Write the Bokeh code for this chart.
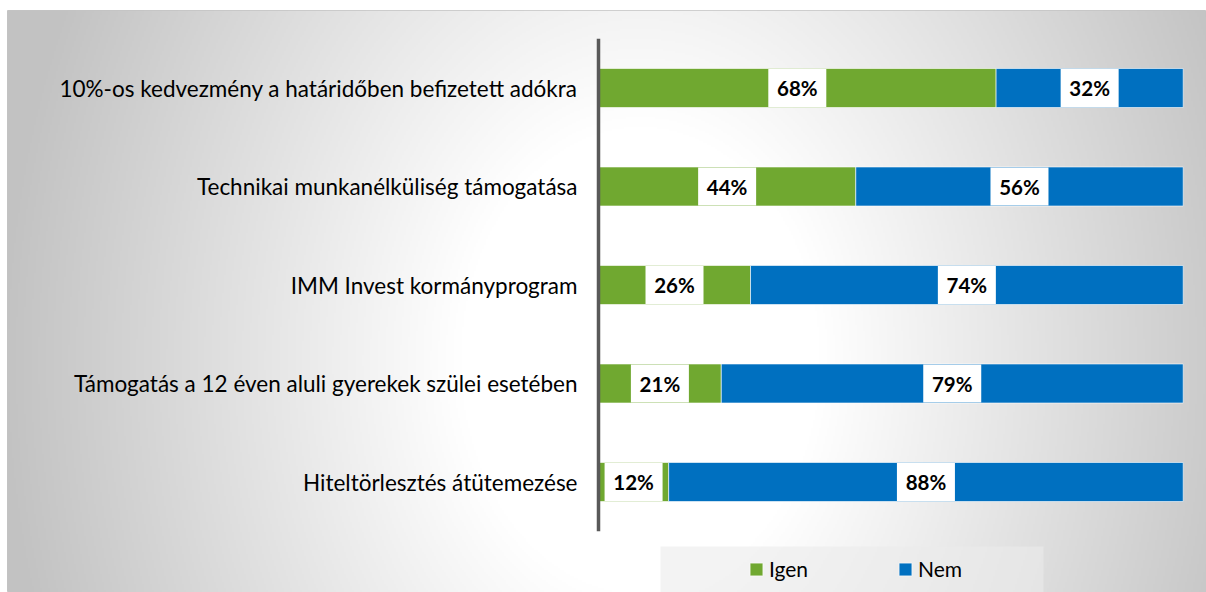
import numpy as np
from bokeh.plotting import figure
from bokeh.models import ColumnDataSource, Range1d, Legend, LegendItem
from bokeh.core.properties import value
from bokeh.embed import file_html
from bokeh.resources import INLINE

# ---- data ----
categories = [
    "10%-os kedvezmény a határidőben befizetett adókra",
    "Technikai munkanélküliség támogatása",
    "IMM Invest kormányprogram",
    "Támogatás a 12 éven aluli gyerekek szülei esetében",
    "Hiteltörlesztés átütemezése",
]
igen = [68, 44, 26, 21, 12]
nem = [32, 56, 74, 79, 88]
series_names = ["Igen", "Nem"]
colors = ["#70A830", "#0070C0"]

TOTAL_W, TOTAL_H = 1206, 592
BL, BT = 7, 10
W, H = TOTAL_W - BL, TOTAL_H - BT
FONT = "Lato"

n = len(categories)
ypos = [n - 1 - i for i in range(n)]

x0_px, x_scale = 591.0, 5.847
y_scale = 98.5
x_start = -x0_px / x_scale
x_end = (W - x0_px) / x_scale
y_end = (n - 1) + 77.5 / y_scale
y_start = y_end - H / y_scale

p = figure(width=TOTAL_W, height=TOTAL_H, output_backend="svg", toolbar_location=None,
           x_range=Range1d(x_start, x_end), y_range=Range1d(y_start, y_end),
           x_axis_location=None, y_axis_location=None,
           min_border_left=BL, min_border_top=BT, min_border_right=0, min_border_bottom=0)
p.grid.visible = False
p.outline_line_color = "#c4c4c4"
p.background_fill_color = "white"
p.border_fill_color = "white"

# ---- radial background gradient ----
RES = 2
hh, ww = H // RES, W // RES + 1
jj, ii = np.meshgrid(np.arange(ww), np.arange(hh))
px = (jj + 0.5) * RES
py = H - (ii + 0.5) * RES
cx, cy = 633.0, 350.0
d = np.sqrt((px - cx) ** 2 + ((py - cy) / 1.3) ** 2)
t = np.clip((d - 180.0) / 460.0, 0, 1)
g = (255 - 61 * t).astype(np.uint32)
img = (255 << 24) | (g << 16) | (g << 8) | g
p.image_rgba(image=[img.astype(np.uint32)], x=x_start, y=y_start,
             dw=ww * RES / x_scale, dh=y_end - y_start)

# ---- bars ----
bar_h = 0.396
src = ColumnDataSource(dict(
    y=ypos, cat=categories,
    igen=igen, nem=nem,
    igen_left=[0] * n, igen_right=igen,
    nem_left=igen, nem_right=[a + b for a, b in zip(igen, nem)],
    igen_mid=[a / 2 for a in igen],
    nem_mid=[a + b / 2 for a, b in zip(igen, nem)],
    igen_lbl=[f"{v}%" for v in igen],
    nem_lbl=[f"{v}%" for v in nem],
))

r_igen = p.hbar(y="y", left="igen_left", right="igen_right", height=bar_h, source=src,
                fill_color=colors[0], line_color="white", line_alpha=0.6, line_width=1)
r_nem = p.hbar(y="y", left="nem_left", right="nem_right", height=bar_h, source=src,
               fill_color=colors[1], line_color="white", line_alpha=0.6, line_width=1)

# data label boxes + labels
for mid, lbl in (("igen_mid", "igen_lbl"), ("nem_mid", "nem_lbl")):
    p.rect(x=mid, y="y", width=58, width_units="screen", height=bar_h - 0.01,
           source=src, fill_color="white", line_color=None)
    p.text(x=mid, y="y", text=lbl, source=src, text_align="center",
           text_baseline="middle", text_font=value(FONT), text_font_style="bold",
           text_font_size="20.5px", text_color="black")

# axis line
p.segment(x0=[0], y0=[-0.5], x1=[0], y1=[n - 0.5], line_color="#595959", line_width=3.5)

# category labels
p.text(x=0, y="y", text="cat", source=src, x_offset=-21, text_align="right",
       text_baseline="middle", text_font=value(FONT), text_font_size="22.5px",
       text_color="black")

# legend background box
bx0 = (653 - x0_px) / x_scale
bx1 = (1036 - x0_px) / x_scale
by1 = y_end - 536 / y_scale
p.quad(left=[bx0], right=[bx1], bottom=[y_start], top=[by1],
       fill_color="#ebebeb", fill_alpha=0.6, line_color=None)

legend = Legend(items=[LegendItem(label=series_names[0], renderers=[r_igen]),
                       LegendItem(label=series_names[1], renderers=[r_nem])],
                orientation="horizontal", location=(741, 11),
                padding=0, margin=0, spacing=8, label_width=120,
                glyph_width=16, glyph_height=16, label_height=24, label_standoff=5,
                label_text_font=FONT, label_text_font_size="21px",
                label_text_color="black",
                background_fill_alpha=0, border_line_alpha=0)
p.add_layout(legend)

open("out.html", "w").write(file_html(p, INLINE))
